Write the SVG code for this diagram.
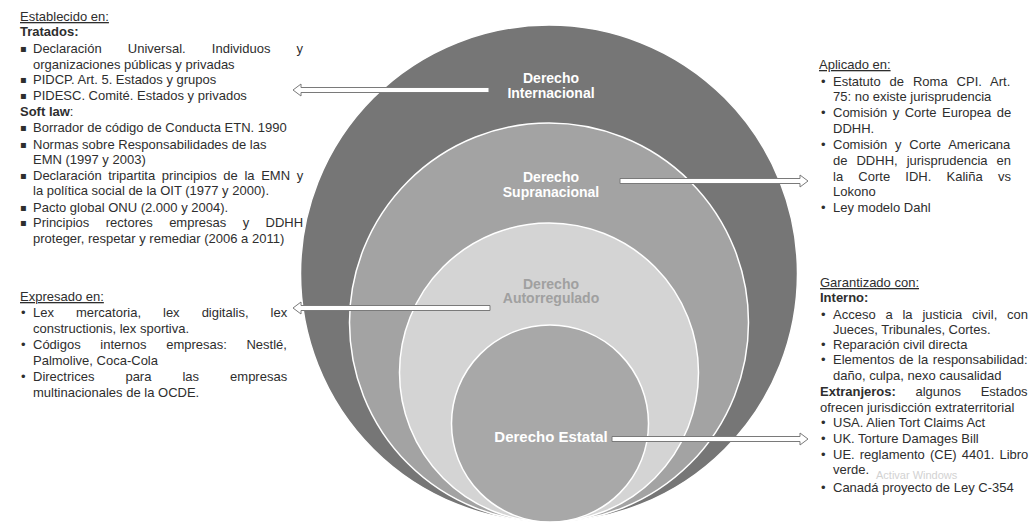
<svg xmlns="http://www.w3.org/2000/svg" width="1031" height="523" viewBox="0 0 1031 523">
<style>
.t{font-family:"Liberation Sans",Arial,sans-serif;font-size:13px;fill:#2e2e2e}
.b{font-weight:bold}
.u{text-decoration:underline}
.sq{font-family:"DejaVu Sans",sans-serif;font-size:10px;fill:#2e2e2e}
.lbl{font-family:"Liberation Sans",Arial,sans-serif;font-size:14px;font-weight:bold;fill:#ffffff;text-anchor:middle}
.circ{stroke:#ffffff;stroke-width:1.5}
.arr{fill:#ffffff;stroke:#7a7a7a;stroke-width:1}
</style>
<rect width="1031" height="523" fill="#ffffff"/>

<g id="derecho-internacional">
<circle class="circ" cx="549" cy="273.5" r="248.5" fill="#767676"/>
<text class="lbl" x="551" y="83">Derecho</text>
<text class="lbl" x="551" y="98">Internacional</text>
</g>
<g id="derecho-supranacional">
<circle class="circ" cx="549" cy="322.5" r="199.5" fill="#a3a3a3"/>
<text class="lbl" x="551" y="182">Derecho</text>
<text class="lbl" x="551" y="197">Supranacional</text>
</g>
<g id="derecho-autorregulado">
<circle class="circ" cx="549" cy="372.5" r="149.5" fill="#d4d4d4"/>
<text class="lbl" x="551" y="289" style="fill:#a0a0a0">Derecho</text>
<text class="lbl" x="551" y="303" style="fill:#a0a0a0">Autorregulado</text>
</g>
<g id="derecho-estatal">
<circle class="circ" cx="550" cy="423.5" r="98.5" fill="#a8a8a8"/>
<text class="lbl" x="551" y="442" style="font-size:15px">Derecho Estatal</text>
</g>

<g id="connectors">
<polygon class="arr" points="293,90 301,84 301,87.5 489,87.5 489,92.5 301,92.5 301,96"/>
<polygon class="arr" points="808,181 800,175 800,178.5 620,178.5 620,183.5 800,183.5 800,187"/>
<polygon class="arr" points="293,308 301,302 301,305.5 490,305.5 490,310.5 301,310.5 301,314"/>
<polygon class="arr" points="808,439 800,433 800,436.5 612,436.5 612,441.5 800,441.5 800,445"/>
</g>

<g id="establecido-en">
<text class="t u" x="20" y="21">Establecido en:</text>
<text class="t b" x="20" y="36">Tratados:</text>
<text class="sq" x="20" y="52">▪</text>
<text class="t" x="33" y="53" word-spacing="22.6">Declaración Universal. Individuos y</text>
<text class="t" x="33" y="69">organizaciones públicas y privadas</text>
<text class="sq" x="20" y="83">▪</text>
<text class="t" x="33" y="84">PIDCP. Art. 5. Estados y grupos</text>
<text class="sq" x="20" y="99">▪</text>
<text class="t" x="33" y="100">PIDESC. Comité. Estados y privados</text>
<text class="t" x="20" y="116"><tspan class="b">Soft law</tspan>:</text>
<text class="sq" x="20" y="131">▪</text>
<text class="t" x="33" y="132">Borrador de código de Conducta ETN. 1990</text>
<text class="sq" x="20" y="148">▪</text>
<text class="t" x="33" y="149">Normas sobre Responsabilidades de las</text>
<text class="t" x="33" y="164">EMN (1997 y 2003)</text>
<text class="sq" x="20" y="179">▪</text>
<text class="t" x="33" y="180" word-spacing="3">Declaración tripartita principios de la EMN y</text>
<text class="t" x="33" y="195">la política social de la OIT (1977 y 2000).</text>
<text class="sq" x="20" y="211">▪</text>
<text class="t" x="33" y="212">Pacto global ONU (2.000 y 2004).</text>
<text class="sq" x="20" y="226">▪</text>
<text class="t" x="33" y="227" word-spacing="12.8">Principios rectores empresas y DDHH</text>
<text class="t" x="33" y="243">proteger, respetar y remediar (2006 a 2011)</text>
</g>

<g id="expresado-en">
<text class="t u" x="20" y="301">Expresado en:</text>
<text class="t" x="21" y="317">•</text>
<text class="t" x="33" y="317" word-spacing="18.4">Lex mercatoria, lex digitalis, lex</text>
<text class="t" x="33" y="333">constructionis, lex sportiva.</text>
<text class="t" x="21" y="349">•</text>
<text class="t" x="33" y="349" word-spacing="16">Códigos internos empresas: Nestlé,</text>
<text class="t" x="33" y="365">Palmolive, Coca-Cola</text>
<text class="t" x="21" y="381">•</text>
<text class="t" x="33" y="381" word-spacing="27.4">Directrices para las empresas</text>
<text class="t" x="33" y="397">multinacionales de la OCDE.</text>
</g>

<g id="aplicado-en">
<text class="t u" x="819" y="69">Aplicado en:</text>
<text class="t" x="821" y="86">•</text>
<text class="t" x="833" y="86" word-spacing="5.3">Estatuto de Roma CPI. Art.</text>
<text class="t" x="833" y="101">75: no existe jurisprudencia</text>
<text class="t" x="821" y="117">•</text>
<text class="t" x="833" y="117" word-spacing="1.9">Comisión y Corte Europea de</text>
<text class="t" x="833" y="133">DDHH.</text>
<text class="t" x="821" y="149">•</text>
<text class="t" x="833" y="149" word-spacing="4.2">Comisión y Corte Americana</text>
<text class="t" x="833" y="165" word-spacing="5.4">de DDHH, jurisprudencia en</text>
<text class="t" x="833" y="181" word-spacing="11.6">la Corte IDH. Kaliña vs</text>
<text class="t" x="833" y="196">Lokono</text>
<text class="t" x="821" y="212">•</text>
<text class="t" x="833" y="212">Ley modelo Dahl</text>
</g>

<g id="garantizado-con">
<text class="t u" x="820" y="287">Garantizado con:</text>
<text class="t b" x="820" y="302">Interno:</text>
<text class="t" x="821" y="319">•</text>
<text class="t" x="833" y="319" word-spacing="6.2">Acceso a la justicia civil, con</text>
<text class="t" x="833" y="334">Jueces, Tribunales, Cortes.</text>
<text class="t" x="821" y="349">•</text>
<text class="t" x="833" y="349">Reparación civil directa</text>
<text class="t" x="821" y="364">•</text>
<text class="t" x="833" y="364" word-spacing="1">Elementos de la responsabilidad:</text>
<text class="t" x="833" y="380">daño, culpa, nexo causalidad</text>
<text class="t" x="820" y="396" word-spacing="16"><tspan class="b">Extranjeros:</tspan> algunos Estados</text>
<text class="t" x="820" y="412">ofrecen jurisdicción extraterritorial</text>
<text class="t" x="821" y="427">•</text>
<text class="t" x="833" y="427">USA. Alien Tort Claims Act</text>
<text class="t" x="821" y="443">•</text>
<text class="t" x="833" y="443">UK. Torture Damages Bill</text>
<text class="t" x="821" y="459">•</text>
<text class="t" x="833" y="459" word-spacing="1.5">UE. reglamento (CE) 4401. Libro</text>
<text class="t" x="833" y="474">verde.</text>
<text x="876" y="479" style="font-family:'Liberation Sans',Arial,sans-serif;font-size:11px;fill:#d2d2d2">Activar Windows</text>
<text class="t" x="821" y="492">•</text>
<text class="t" x="833" y="492">Canadá proyecto de Ley C-354</text>
</g>
</svg>
